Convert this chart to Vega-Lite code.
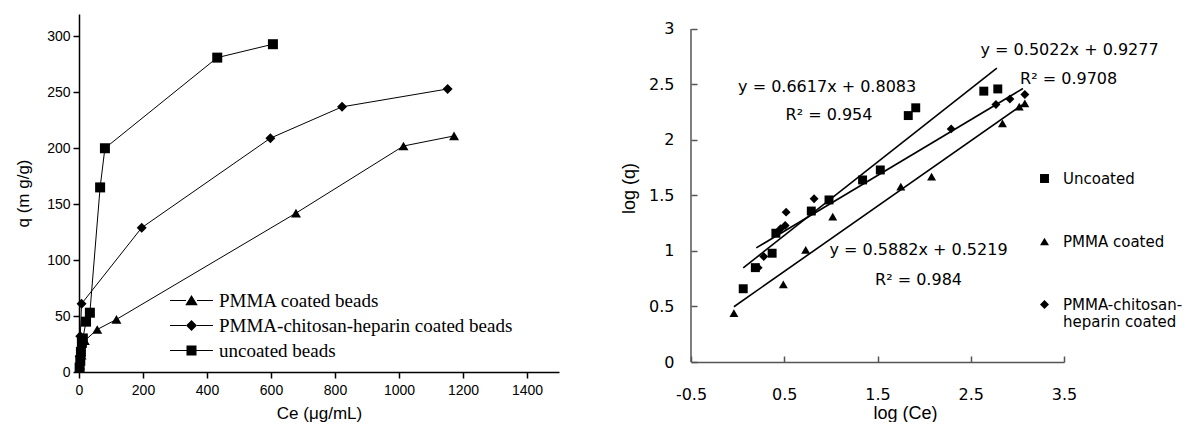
{
  "$schema": "https://vega.github.io/schema/vega-lite/v6.json",
  "background": "white",
  "padding": {"left": 14, "top": 14, "right": 0, "bottom": 0},
  "config": {
    "view": {"stroke": null},
    "axis": {"grid": false, "domainColor": "black", "tickColor": "black", "labelColor": "black", "titleColor": "black", "titleFontWeight": "normal", "labelFlush": false, "labelOverlap": false}
  },
  "datasets": {
    "isotherm": [
      {"sample": "PMMA coated beads", "ce": 3, "q": 6},
      {"sample": "PMMA coated beads", "ce": 8, "q": 15},
      {"sample": "PMMA coated beads", "ce": 18, "q": 28},
      {"sample": "PMMA coated beads", "ce": 57, "q": 38},
      {"sample": "PMMA coated beads", "ce": 117, "q": 47},
      {"sample": "PMMA coated beads", "ce": 678, "q": 142},
      {"sample": "PMMA coated beads", "ce": 1014, "q": 202},
      {"sample": "PMMA coated beads", "ce": 1172, "q": 211},
      {"sample": "PMMA-chitosan-heparin coated beads", "ce": 2, "q": 14},
      {"sample": "PMMA-chitosan-heparin coated beads", "ce": 4, "q": 32},
      {"sample": "PMMA-chitosan-heparin coated beads", "ce": 8, "q": 61},
      {"sample": "PMMA-chitosan-heparin coated beads", "ce": 196, "q": 129},
      {"sample": "PMMA-chitosan-heparin coated beads", "ce": 598, "q": 209},
      {"sample": "PMMA-chitosan-heparin coated beads", "ce": 822, "q": 237},
      {"sample": "PMMA-chitosan-heparin coated beads", "ce": 1152, "q": 253},
      {"sample": "uncoated beads", "ce": 2, "q": 4},
      {"sample": "uncoated beads", "ce": 4, "q": 10},
      {"sample": "uncoated beads", "ce": 6, "q": 18},
      {"sample": "uncoated beads", "ce": 9, "q": 26},
      {"sample": "uncoated beads", "ce": 12, "q": 30},
      {"sample": "uncoated beads", "ce": 22, "q": 45},
      {"sample": "uncoated beads", "ce": 34, "q": 53},
      {"sample": "uncoated beads", "ce": 66, "q": 165},
      {"sample": "uncoated beads", "ce": 81, "q": 200},
      {"sample": "uncoated beads", "ce": 432, "q": 281},
      {"sample": "uncoated beads", "ce": 606, "q": 293}
    ],
    "freundlich": [
      {"series": "Uncoated", "lx": 0.06, "lq": 0.66},
      {"series": "Uncoated", "lx": 0.19, "lq": 0.85},
      {"series": "Uncoated", "lx": 0.37, "lq": 0.98},
      {"series": "Uncoated", "lx": 0.41, "lq": 1.16},
      {"series": "Uncoated", "lx": 0.79, "lq": 1.36},
      {"series": "Uncoated", "lx": 0.98, "lq": 1.46},
      {"series": "Uncoated", "lx": 1.34, "lq": 1.64},
      {"series": "Uncoated", "lx": 1.53, "lq": 1.73},
      {"series": "Uncoated", "lx": 1.83, "lq": 2.22},
      {"series": "Uncoated", "lx": 1.91, "lq": 2.29},
      {"series": "Uncoated", "lx": 2.64, "lq": 2.44},
      {"series": "Uncoated", "lx": 2.79, "lq": 2.46},
      {"series": "PMMA coated", "lx": -0.04, "lq": 0.44},
      {"series": "PMMA coated", "lx": 0.49, "lq": 0.7},
      {"series": "PMMA coated", "lx": 0.73, "lq": 1.01},
      {"series": "PMMA coated", "lx": 1.02, "lq": 1.31},
      {"series": "PMMA coated", "lx": 1.75, "lq": 1.58},
      {"series": "PMMA coated", "lx": 2.08, "lq": 1.67},
      {"series": "PMMA coated", "lx": 2.84, "lq": 2.15},
      {"series": "PMMA coated", "lx": 3.02, "lq": 2.3},
      {"series": "PMMA coated", "lx": 3.08, "lq": 2.33},
      {"series": "PMMA-chitosan-heparin coated", "lx": 0.22, "lq": 0.85},
      {"series": "PMMA-chitosan-heparin coated", "lx": 0.28, "lq": 0.95},
      {"series": "PMMA-chitosan-heparin coated", "lx": 0.46, "lq": 1.2},
      {"series": "PMMA-chitosan-heparin coated", "lx": 0.51, "lq": 1.23},
      {"series": "PMMA-chitosan-heparin coated", "lx": 0.52, "lq": 1.35},
      {"series": "PMMA-chitosan-heparin coated", "lx": 0.82, "lq": 1.47},
      {"series": "PMMA-chitosan-heparin coated", "lx": 2.29, "lq": 2.1},
      {"series": "PMMA-chitosan-heparin coated", "lx": 2.77, "lq": 2.32},
      {"series": "PMMA-chitosan-heparin coated", "lx": 2.92, "lq": 2.37},
      {"series": "PMMA-chitosan-heparin coated", "lx": 3.08, "lq": 2.41}
    ],
    "fits": [
      {"series": "Uncoated", "lx": 0.06, "lq": 0.848},
      {"series": "Uncoated", "lx": 2.78, "lq": 2.648},
      {"series": "PMMA coated", "lx": -0.04, "lq": 0.498},
      {"series": "PMMA coated", "lx": 3.05, "lq": 2.316},
      {"series": "PMMA-chitosan-heparin coated", "lx": 0.2, "lq": 1.028},
      {"series": "PMMA-chitosan-heparin coated", "lx": 3.06, "lq": 2.464}
    ],
    "equations": [
      {"label": "y = 0.6617x + 0.8083", "lx": 0.96, "lq": 2.48},
      {"label": "R² = 0.954", "lx": 0.98, "lq": 2.225},
      {"label": "y = 0.5022x + 0.9277", "lx": 3.56, "lq": 2.81},
      {"label": "R² = 0.9708", "lx": 3.55, "lq": 2.55},
      {"label": "y = 0.5882x + 0.5219", "lx": 1.94, "lq": 1.01},
      {"label": "R² = 0.984", "lx": 1.94, "lq": 0.74}
    ]
  },
  "spacing": 61,
  "resolve": {"scale": {"shape": "independent"}, "legend": {"shape": "independent"}},
  "hconcat": [
    {
      "width": 480,
      "height": 358,
      "data": {"name": "isotherm"},
      "resolve": {"scale": {"shape": "independent"}, "legend": {"shape": "independent"}},
      "layer": [
        {
          "mark": {"type": "line", "color": "black", "strokeWidth": 1},
          "encoding": {
            "x": {
              "field": "ce", "type": "quantitative",
              "scale": {"domain": [0, 1500], "nice": false},
              "axis": {
                "title": "Ce (μg/mL)",
                "values": [0, 100, 200, 300, 400, 500, 600, 700, 800, 900, 1000, 1100, 1200, 1300, 1400, 1500],
                "labelExpr": "datum.value % 200 === 0 ? format(datum.value, 'd') : ''",
                "tickSize": {"condition": {"test": "datum.value % 200 === 0", "value": 6}, "value": 3},
                "labelFont": "Liberation Sans", "labelFontSize": 14, "labelPadding": 5,
                "titleFont": "Liberation Sans", "titleFontSize": 17, "titlePadding": 8,
                "domainWidth": 1.5, "tickWidth": 1.5
              }
            },
            "y": {
              "field": "q", "type": "quantitative",
              "scale": {"domain": [0, 320], "nice": false},
              "axis": {
                "title": "q (m g/g)",
                "values": [0, 25, 50, 75, 100, 125, 150, 175, 200, 225, 250, 275, 300],
                "labelExpr": "datum.value % 50 === 0 ? datum.label : ''",
                "tickSize": {"condition": {"test": "datum.value % 50 === 0", "value": 6}, "value": 3},
                "labelFont": "Liberation Sans", "labelFontSize": 14, "labelPadding": 3,
                "titleFont": "Liberation Sans", "titleFontSize": 17, "titlePadding": 14,
                "domainWidth": 1.5, "tickWidth": 1.5
              }
            },
            "detail": {"field": "sample"}
          }
        },
        {
          "mark": {"type": "point", "filled": true, "color": "black", "opacity": 1, "size": 100},
          "encoding": {
            "x": {"field": "ce", "type": "quantitative"},
            "y": {"field": "q", "type": "quantitative"},
            "shape": {
              "field": "sample", "type": "nominal",
              "scale": {
                "domain": ["PMMA coated beads", "PMMA-chitosan-heparin coated beads", "uncoated beads"],
                "range": ["triangle-up", "diamond", "square"]
              },
              "legend": null
            }
          }
        },
        {
          "transform": [{"filter": "false"}],
          "mark": {"type": "point", "filled": true, "color": "black", "opacity": 1, "size": 100},
          "encoding": {
            "x": {"field": "ce", "type": "quantitative"},
            "y": {"field": "q", "type": "quantitative"},
            "shape": {
              "field": "sample", "type": "nominal",
              "scale": {
                "domain": ["PMMA coated beads", "PMMA-chitosan-heparin coated beads", "uncoated beads"],
                "range": [
                  "M-4.3,-0.1L-1.1,-0.1L-1.1,0.1L-4.3,0.1Z M1.1,-0.1L4.3,-0.1L4.3,0.1L1.1,0.1Z M0,-1.1L1.25,0.95L-1.25,0.95Z",
                  "M-4.3,-0.1L-1.1,-0.1L-1.1,0.1L-4.3,0.1Z M1.1,-0.1L4.3,-0.1L4.3,0.1L1.1,0.1Z M0,-1.1L1.1,0L0,1.1L-1.1,0Z",
                  "M-4.3,-0.08L-1,-0.08L-1,0.08L-4.3,0.08Z M1,-0.08L4.3,-0.08L4.3,0.08L1,0.08Z M-1,-1L1,-1L1,1L-1,1Z"
                ]
              },
              "legend": {
                "title": null,
                "orient": "none",
                "legendX": 103,
                "legendY": 277,
                "padding": 0,
                "symbolSize": 100,
                "rowPadding": 5,
                "labelOffset": 18,
                "labelFont": "Liberation Serif",
                "labelFontSize": 19,
                "labelColor": "black",
                "labelLimit": 400,
                "encode": {
                  "symbols": {
                    "fill": {"value": "black"},
                    "opacity": {"value": 1}
                  }
                }
              }
            }
          }
        }
      ]
    },
    {
      "width": 373,
      "height": 348,
      "layer": [
        {
          "data": {"name": "fits"},
          "mark": {"type": "line", "color": "black", "strokeWidth": 1.6},
          "encoding": {
            "x": {
              "field": "lx", "type": "quantitative",
              "scale": {"domain": [-0.5, 3.5], "nice": false, "zero": false},
              "axis": {
                "title": "log (Ce)",
                "values": [-0.5, 0.5, 1.5, 2.5, 3.5],
                "labelExpr": "toString(datum.value)",
                "tickSize": -6,
                "labelFont": "DejaVu Sans", "labelFontSize": 16, "labelPadding": 30,
                "titleFont": "Liberation Sans", "titleFontSize": 18, "titlePadding": 2,
                "titleX": 214,
                "domainWidth": 1.5, "tickWidth": 1.5, "domainColor": "#555", "tickColor": "#555"
              }
            },
            "y": {
              "field": "lq", "type": "quantitative",
              "scale": {"domain": [0, 3.135], "nice": false},
              "axis": {
                "title": "log (q)",
                "values": [0, 0.5, 1, 1.5, 2, 2.5, 3],
                "labelExpr": "toString(datum.value)",
                "tickSize": -6,
                "domain": false,
                "labelFont": "DejaVu Sans", "labelFontSize": 16, "labelPadding": 23,
                "titleFont": "Liberation Sans", "titleFontSize": 18, "titlePadding": 10,
                "tickWidth": 1.5, "tickColor": "#555"
              }
            },
            "detail": {"field": "series"}
          }
        },
        {
          "data": {"values": [{}]},
          "mark": {"type": "rule", "color": "#555", "strokeWidth": 1.5},
          "encoding": {
            "x": {"datum": -0.5, "type": "quantitative"},
            "y": {"datum": 0, "type": "quantitative"},
            "y2": {"datum": 3}
          }
        },
        {
          "data": {"name": "freundlich"},
          "mark": {"type": "point", "filled": true, "color": "black", "opacity": 1, "size": 80},
          "encoding": {
            "x": {"field": "lx", "type": "quantitative"},
            "y": {"field": "lq", "type": "quantitative"},
            "shape": {
              "field": "series", "type": "nominal",
              "scale": {
                "domain": ["Uncoated", "PMMA coated", "PMMA-chitosan-heparin coated"],
                "range": ["square", "triangle-up", "diamond"]
              },
              "legend": {
                "title": null,
                "orient": "none",
                "legendX": 346,
                "legendY": 157,
                "padding": 0,
                "symbolSize": 80,
                "symbolFillColor": "black",
                "symbolStrokeColor": "black",
                "rowPadding": 47,
                "labelOffset": 11,
                "labelFont": "DejaVu Sans",
                "labelFontSize": 15,
                "labelColor": "black",
                "labelLimit": 300,
                "labelExpr": "datum.label === 'PMMA-chitosan-heparin coated' ? ['PMMA-chitosan-', 'heparin coated'] : datum.label"
              }
            }
          }
        },
        {
          "data": {"name": "equations"},
          "mark": {"type": "text", "font": "DejaVu Sans", "fontSize": 16, "color": "black", "align": "center", "baseline": "middle"},
          "encoding": {
            "x": {"field": "lx", "type": "quantitative"},
            "y": {"field": "lq", "type": "quantitative"},
            "text": {"field": "label"}
          }
        }
      ]
    }
  ]
}
